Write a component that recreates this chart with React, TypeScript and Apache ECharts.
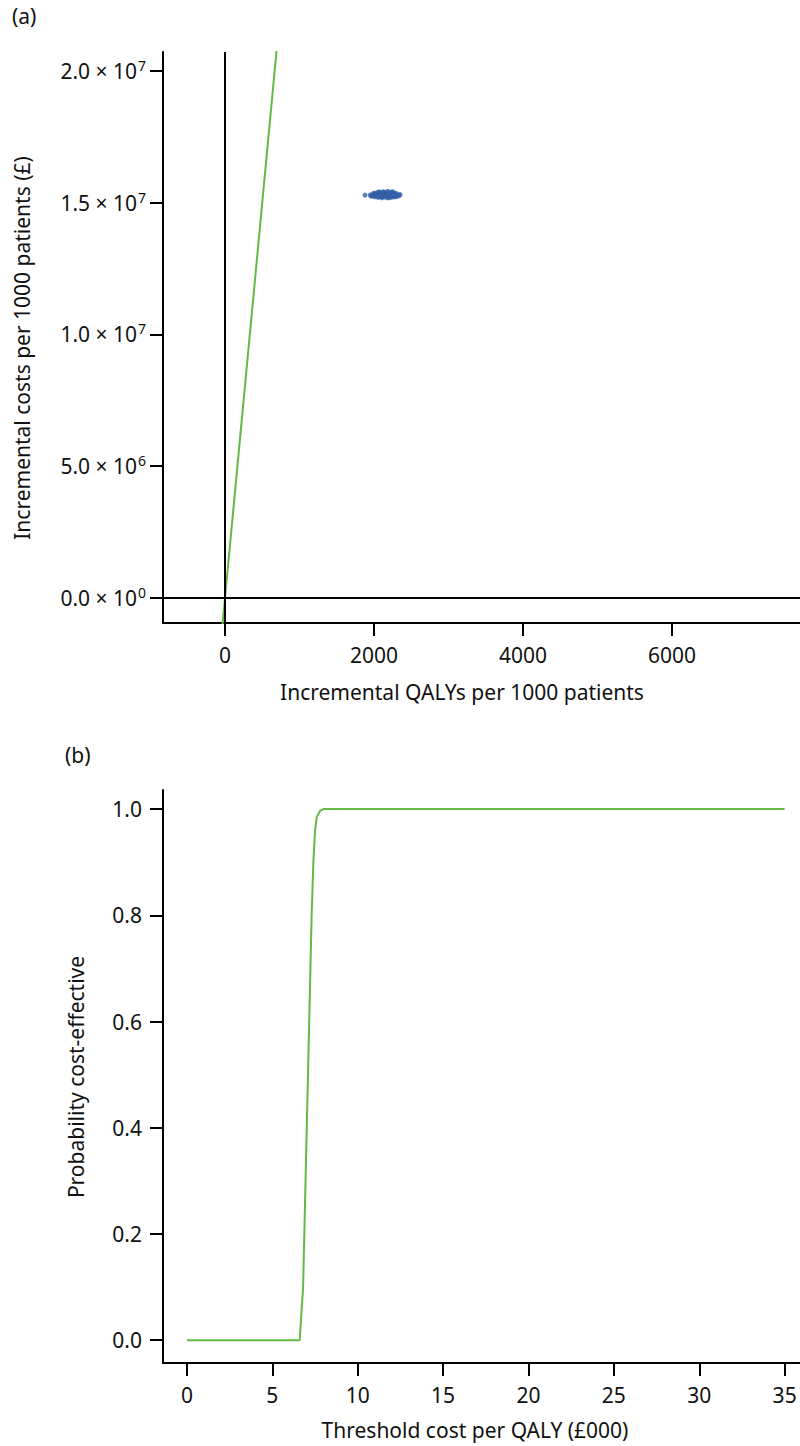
import React, { useEffect, useRef } from "react";
import * as echarts from "echarts";

const FONT = "Noto Sans";
const FS = 21;
const GREEN = "#63b946";
const BLUE = "#3560a8";

// Panel (a): cost-effectiveness plane
const xTopTicks = [0, 2000, 4000, 6000];
const yTopTicks = [0, 5e6, 1e7, 1.5e7, 2e7];
const yTopMantissa = ["0.0", "5.0", "1.0", "1.5", "2.0"];
const yTopExponent = ["0", "6", "7", "7", "7"];
const wtpPerQaly = 30000;
const wtpLineQalys = [-40, 700];

const psaPoints: [number, number][] = [
  [1880, 15290000], [1950, 15300000], [1960, 15250000], [1975, 15260000], [1990, 15330000],
  [2000, 15360000], [2005, 15280000], [2010, 15220000], [2015, 15300000], [2020, 15350000],
  [2030, 15300000], [2040, 15250000], [2045, 15380000], [2055, 15200000], [2060, 15320000],
  [2065, 15410000], [2070, 15270000], [2080, 15400000], [2085, 15230000], [2090, 15340000],
  [2095, 15240000], [2100, 15290000], [2105, 15190000], [2110, 15370000], [2115, 15300000],
  [2120, 15250000], [2125, 15420000], [2130, 15310000], [2135, 15380000], [2140, 15210000],
  [2145, 15350000], [2150, 15280000], [2160, 15400000], [2165, 15240000], [2170, 15330000],
  [2175, 15260000], [2180, 15190000], [2185, 15430000], [2190, 15290000], [2195, 15310000],
  [2200, 15360000], [2205, 15230000], [2210, 15190000], [2215, 15310000], [2220, 15400000],
  [2230, 15260000], [2240, 15340000], [2245, 15210000], [2250, 15420000], [2255, 15300000],
  [2265, 15380000], [2270, 15250000], [2280, 15320000], [2285, 15220000], [2290, 15280000],
  [2300, 15350000], [2310, 15240000], [2325, 15300000], [2340, 15270000], [2350, 15310000],
];

// Panel (b): cost-effectiveness acceptability curve
const xBottomTicks = [0, 5, 10, 15, 20, 25, 30, 35];
const yBottomTicks = [0, 0.2, 0.4, 0.6, 0.8, 1.0];
const thresholds = [0, 1, 2, 3, 4, 5, 6, 6.6, 6.8, 7.3, 7.4, 7.5, 7.6, 7.8, 8, 10, 15, 20, 25, 30, 35];
const probCE = [0, 0, 0, 0, 0, 0, 0, 0, 0.1, 0.8, 0.9, 0.96, 0.985, 0.997, 1, 1, 1, 1, 1, 1, 1];

const textStyle = { fontFamily: FONT, fontSize: FS, color: "#111" };
const gfont = `${FS}px "${FONT}"`;

export default function App() {
  const ref = useRef<HTMLDivElement>(null);
  useEffect(() => {
    document.body.style.margin = "0";
    if (!ref.current) return;
    const chart = echarts.init(ref.current, null, { renderer: "svg" });
    const axisLine = { show: true, onZero: false, lineStyle: { color: "#000", width: 2 } };
    const axisTickBase = { show: true, inside: false, length: 13, lineStyle: { color: "#000", width: 2 } };
    chart.setOption({
      animation: false,
      backgroundColor: "#fff",
      grid: [
        { left: 163, top: 52, width: 637, height: 571 },
        { left: 163, top: 790, width: 637, height: 573 },
      ],
      xAxis: [
        {
          type: "value", gridIndex: 0, min: -832, max: 7718,
          splitLine: { show: false }, axisLine,
          axisTick: { ...axisTickBase, customValues: xTopTicks },
          axisLabel: { ...textStyle, margin: 21, customValues: xTopTicks, formatter: (v: number) => String(v) },
        },
        {
          type: "value", gridIndex: 1, min: -1.405, max: 35.9,
          splitLine: { show: false }, axisLine,
          axisTick: { ...axisTickBase, customValues: xBottomTicks },
          axisLabel: { ...textStyle, margin: 21, customValues: xBottomTicks, formatter: (v: number) => String(v) },
        },
      ],
      yAxis: [
        {
          type: "value", gridIndex: 0, min: -0.95e6, max: 2.072e7,
          splitLine: { show: false }, axisLine,
          axisTick: { ...axisTickBase, customValues: yTopTicks },
          axisLabel: {
            margin: 17,
            customValues: yTopTicks,
            formatter: (v: number) => {
              const i = yTopTicks.indexOf(v);
              if (i < 0) return "";
              return `{m|${yTopMantissa[i]} × 10}{e|${yTopExponent[i]}}`;
            },
            rich: {
              m: { fontFamily: FONT, fontSize: FS, color: "#111" },
              e: { fontFamily: FONT, fontSize: 14, color: "#111", padding: [0, 0, 11, 1] },
            },
          },
        },
        {
          type: "value", gridIndex: 1, min: -0.043, max: 1.036,
          splitLine: { show: false }, axisLine,
          axisTick: { ...axisTickBase, customValues: yBottomTicks },
          axisLabel: {
            ...textStyle, margin: 21, customValues: yBottomTicks,
            formatter: (v: number) => v.toFixed(1),
          },
        },
      ],
      series: [
        {
          type: "line", xAxisIndex: 0, yAxisIndex: 0,
          data: wtpLineQalys.map((q) => [q, q * wtpPerQaly]),
          showSymbol: false, symbol: "none", clip: true,
          lineStyle: { color: GREEN, width: 2 },
          markLine: {
            silent: true, symbol: "none", label: { show: false },
            lineStyle: { color: "#000", width: 2, type: "solid" },
            data: [{ xAxis: 0 }, { yAxis: 0 }],
          },
          z: 3,
        },
        {
          type: "scatter", xAxisIndex: 0, yAxisIndex: 0,
          data: psaPoints, symbolSize: 5,
          itemStyle: { color: BLUE },
          z: 4,
        },
        {
          type: "line", xAxisIndex: 1, yAxisIndex: 1,
          data: thresholds.map((t, i) => [t, probCE[i]]),
          showSymbol: false, symbol: "none",
          lineStyle: { color: GREEN, width: 2 },
        },
      ],
      graphic: [
        { type: "text", left: 12, top: 5, style: { text: "(a)", fill: "#111", font: gfont } },
        { type: "text", left: 65, top: 744, style: { text: "(b)", fill: "#111", font: gfont } },
        {
          type: "text", x: 22, y: 348, rotation: Math.PI / 2,
          style: { text: "Incremental costs per 1000 patients (£)", fill: "#111", font: gfont, align: "center", verticalAlign: "middle" },
        },
        {
          type: "text", x: 462, y: 692,
          style: { text: "Incremental QALYs per 1000 patients", fill: "#111", font: gfont, align: "center", verticalAlign: "middle" },
        },
        {
          type: "text", x: 76, y: 1077, rotation: Math.PI / 2,
          style: { text: "Probability cost-effective", fill: "#111", font: gfont, align: "center", verticalAlign: "middle" },
        },
        {
          type: "text", x: 475, y: 1430,
          style: { text: "Threshold cost per QALY (£000)", fill: "#111", font: gfont, align: "center", verticalAlign: "middle" },
        },
      ],
    });
    return () => chart.dispose();
  }, []);
  return <div ref={ref} style={{ width: 800, height: 1446 }} />;
}
